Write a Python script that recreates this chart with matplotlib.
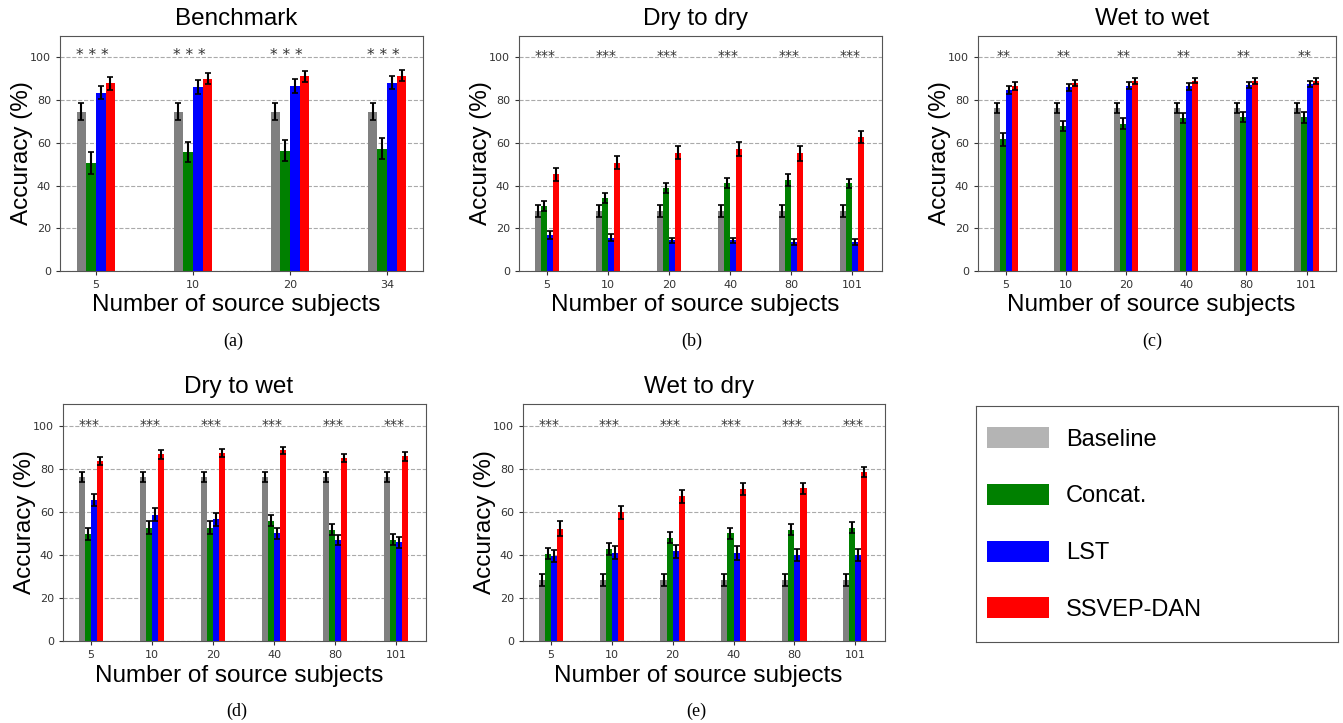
import numpy as np
import matplotlib
matplotlib.use('Agg')
import matplotlib.pyplot as plt
from matplotlib.patches import Patch

# Ejes x de cada panel
bench_ticks = ['5', '10', '20', '34']
cross_ticks = ['5', '10', '20', '40', '80', '101']

# (a) Benchmark
bench_base = [74.6, 74.6, 74.6, 74.6]
bench_base_err = [4.0, 4.0, 4.0, 4.0]
bench_concat = [50.5, 55.5, 56.3, 57.3]
bench_concat_err = [5.0, 4.7, 4.8, 4.8]
bench_lst = [83.5, 86.0, 86.4, 88.1]
bench_lst_err = [3.1, 3.2, 3.3, 3.0]
bench_dan = [87.8, 89.9, 91.1, 91.4]
bench_dan_err = [3.0, 2.6, 2.5, 2.5]

# (b) Dry to dry
dd_base = [28.2, 28.2, 28.2, 28.2, 28.2, 28.2]
dd_base_err = [2.8, 2.8, 2.8, 2.8, 2.8, 2.8]
dd_concat = [30.6, 34.2, 38.8, 41.0, 42.4, 41.0]
dd_concat_err = [2.3, 2.5, 2.3, 2.3, 2.8, 2.0]
dd_lst = [16.7, 15.6, 14.4, 14.4, 13.6, 13.6]
dd_lst_err = [1.9, 1.6, 1.2, 1.2, 1.2, 1.2]
dd_dan = [45.2, 50.7, 55.4, 57.1, 55.1, 62.6]
dd_dan_err = [3.0, 3.1, 3.1, 3.1, 3.4, 2.8]

# (c) Wet to wet
ww_base = [76.3, 76.3, 76.3, 76.3, 76.3, 76.3]
ww_base_err = [2.5, 2.5, 2.5, 2.5, 2.5, 2.5]
ww_concat = [61.6, 67.9, 69.0, 71.6, 71.9, 71.9]
ww_concat_err = [3.1, 2.3, 2.5, 2.2, 2.3, 2.6]
ww_lst = [84.6, 86.0, 86.7, 86.4, 87.1, 87.4]
ww_lst_err = [1.9, 1.7, 1.6, 1.7, 1.5, 1.5]
ww_dan = [86.4, 88.0, 88.9, 89.1, 88.8, 88.8]
ww_dan_err = [1.9, 1.4, 1.3, 1.1, 1.4, 1.4]

# (d) Dry to wet
dw_base = [76.2, 76.2, 76.2, 76.2, 76.2, 76.2]
dw_base_err = [2.3, 2.3, 2.3, 2.3, 2.3, 2.3]
dw_concat = [49.8, 52.6, 52.6, 55.8, 51.6, 47.0]
dw_concat_err = [2.8, 3.0, 3.0, 2.6, 2.6, 2.5]
dw_lst = [65.6, 58.7, 56.4, 50.0, 46.9, 45.8]
dw_lst_err = [2.8, 3.1, 2.8, 2.5, 2.5, 2.5]
dw_dan = [83.6, 86.6, 87.2, 88.5, 85.0, 85.7]
dw_dan_err = [2.0, 1.9, 1.7, 1.5, 1.9, 2.2]

# (e) Wet to dry
wd_base = [28.2, 28.2, 28.2, 28.2, 28.2, 28.2]
wd_base_err = [2.8, 2.8, 2.8, 2.8, 2.8, 2.8]
wd_concat = [40.5, 42.8, 48.0, 50.0, 51.6, 52.5]
wd_concat_err = [2.6, 2.7, 2.6, 2.5, 2.6, 2.6]
wd_lst = [39.4, 41.0, 41.6, 40.8, 39.9, 39.9]
wd_lst_err = [2.8, 3.1, 3.1, 3.1, 2.9, 2.9]
wd_dan = [52.2, 59.8, 67.1, 70.4, 70.9, 78.5]
wd_dan_err = [3.3, 3.0, 3.0, 2.8, 2.6, 2.2]

methods = ['Baseline', 'Concat.', 'LST', 'SSVEP-DAN']
colors = ['gray', 'green', 'blue', 'red']
legend_colors = ['#b4b4b4', 'green', 'blue', 'red']

W, H = 1343, 723
fig = plt.figure(figsize=(W / 100, H / 100), dpi=100)

LABEL_FONT = ['Liberation Sans', 'DejaVu Sans']


def draw_panel(rect_px, title, ticks, series, errs, stars, star_size, xlim):
    x0, y0, x1, y1 = rect_px
    ax = fig.add_axes([x0 / W, 1 - y1 / H, (x1 - x0) / W, (y1 - y0) / H])
    x = np.arange(len(ticks))
    width = 0.1
    for k, (vals, err) in enumerate(zip(series, errs)):
        ax.bar(x + (k - 1.5) * width, vals, width, color=colors[k],
               yerr=err, capsize=2.5,
               error_kw=dict(ecolor='black', elinewidth=1.5, capthick=1.2),
               zorder=2)
    # marcas de significancia
    for i in x:
        ax.text(i - 0.04, 98.6, stars, ha='center', va='baseline',
                fontsize=star_size, color='#333333', zorder=3)
    ax.set_ylim(0, 110)
    ax.set_xlim(*xlim)
    ax.set_yticks([0, 20, 40, 60, 80, 100])
    ax.set_xticks(x)
    ax.set_xticklabels(ticks)
    ax.tick_params(labelsize=8, colors='#333333', length=3)
    ax.yaxis.grid(True, linestyle='--', color='#aaaaaa', linewidth=0.8)
    ax.set_axisbelow(True)
    for s in ax.spines.values():
        s.set_color('#555555')
    ax.set_title(title, fontsize=17.5, family=LABEL_FONT, x=0.485, pad=8)
    ax.set_xlabel('Number of source subjects', fontsize=17.5, family=LABEL_FONT)
    ax.xaxis.set_label_coords(0.485, -0.1, transform=ax.transAxes)
    ax.set_ylabel('Accuracy (%)', fontsize=17.5, family=LABEL_FONT, labelpad=-2)
    return ax


panels = [
    ((60, 36, 423, 271), 'Benchmark', bench_ticks,
     [bench_base, bench_concat, bench_lst, bench_dan],
     [bench_base_err, bench_concat_err, bench_lst_err, bench_dan_err],
     '* * *', 11, (-0.37, 3.37), (233, 341), '(a)'),
    ((519, 36, 882, 271), 'Dry to dry', cross_ticks,
     [dd_base, dd_concat, dd_lst, dd_dan],
     [dd_base_err, dd_concat_err, dd_lst_err, dd_dan_err],
     '***', 10, (-0.46, 5.49), (692, 341), '(b)'),
    ((978, 36, 1336, 271), 'Wet to wet', cross_ticks,
     [ww_base, ww_concat, ww_lst, ww_dan],
     [ww_base_err, ww_concat_err, ww_lst_err, ww_dan_err],
     '**', 10, (-0.46, 5.49), (1152, 341), '(c)'),
    ((63, 404, 426, 641), 'Dry to wet', cross_ticks,
     [dw_base, dw_concat, dw_lst, dw_dan],
     [dw_base_err, dw_concat_err, dw_lst_err, dw_dan_err],
     '***', 10, (-0.46, 5.49), (237, 711), '(d)'),
    ((523, 404, 885, 641), 'Wet to dry', cross_ticks,
     [wd_base, wd_concat, wd_lst, wd_dan],
     [wd_base_err, wd_concat_err, wd_lst_err, wd_dan_err],
     '***', 10, (-0.46, 5.49), (696, 711), '(e)'),
]

for rect, title, ticks, series, errs, stars, ssize, xlim, cap_xy, caption in panels:
    draw_panel(rect, title, ticks, series, errs, stars, ssize, xlim)
    fig.text(cap_xy[0] / W, 1 - cap_xy[1] / H, caption, ha='center', va='center',
             fontsize=13, family=['Liberation Serif', 'DejaVu Serif'])

# Leyenda en su propio recuadro
lx0, ly0, lx1, ly1 = 976, 406, 1338, 642
lax = fig.add_axes([lx0 / W, 1 - ly1 / H, (lx1 - lx0) / W, (ly1 - ly0) / H])
lax.set_xticks([])
lax.set_yticks([])
for s in lax.spines.values():
    s.set_color('#555555')
handles = [Patch(facecolor=c, edgecolor='none') for c in legend_colors]
lax.legend(handles, methods, loc='center left', bbox_to_anchor=(0.0, 0.5),
           frameon=False, prop={'family': LABEL_FONT, 'size': 17},
           handlelength=2.65, handleheight=1.0, labelspacing=1.4,
           handletextpad=0.7, borderpad=0.2, borderaxespad=0.25)

fig.savefig('out.png', dpi=100)
